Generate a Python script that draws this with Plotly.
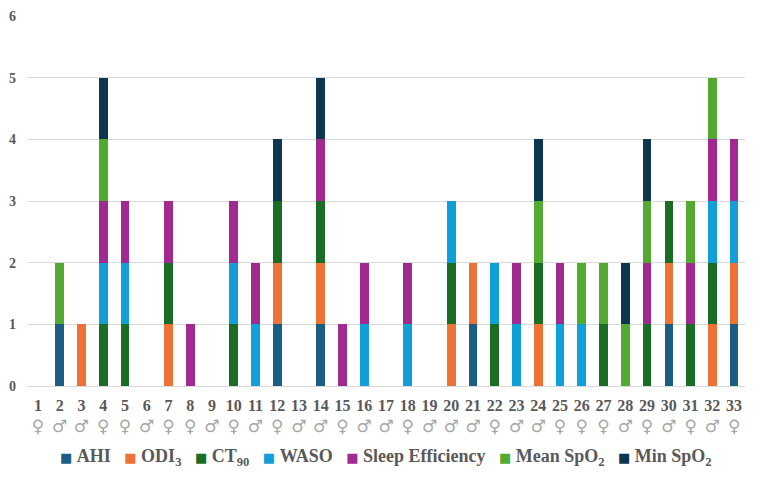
import plotly.graph_objects as go

subjects = [str(i) for i in range(1, 34)]
genders = ["♀","♂","♂","♀","♀","♂","♀","♀","♂","♀","♂","♀","♂","♂","♀","♂","♂",
           "♀","♂","♂","♂","♀","♂","♂","♀","♀","♀","♂","♀","♂","♀","♂","♀"]

series_names = ["AHI", "ODI<sub>3</sub>", "CT<sub>90</sub>", "WASO", "Sleep Efficiency",
                "Mean SpO<sub>2</sub>", "Min SpO<sub>2</sub>"]
colors = ["#1A5E83", "#EC7335", "#1B6C25", "#119FD7", "#A12A91", "#53AA33", "#0D374E"]

ahi  = [0,1,0,0,0,0,0,0,0,0,0,1,0,1,0,0,0,0,0,0,1,0,0,0,0,0,0,0,0,1,0,0,1]
odi  = [0,0,1,0,0,0,1,0,0,0,0,1,0,1,0,0,0,0,0,1,1,0,0,1,0,0,0,0,0,1,0,1,1]
ct90 = [0,0,0,1,1,0,1,0,0,1,0,1,0,1,0,0,0,0,0,1,0,1,0,1,0,0,1,0,1,1,1,1,0]
waso = [0,0,0,1,1,0,0,0,0,1,1,0,0,0,0,1,0,1,0,1,0,1,1,0,1,1,0,0,0,0,0,1,1]
se   = [0,0,0,1,1,0,1,1,0,1,1,0,0,1,1,1,0,1,0,0,0,0,1,0,1,0,0,0,1,0,1,1,1]
mean = [0,1,0,1,0,0,0,0,0,0,0,0,0,0,0,0,0,0,0,0,0,0,0,1,0,1,1,1,1,0,1,1,0]
mins = [0,0,0,1,0,0,0,0,0,0,0,1,0,1,0,0,0,0,0,0,0,0,0,1,0,0,0,1,1,0,0,0,0]
series_values = [ahi, odi, ct90, waso, se, mean, mins]

ticktext = [f"<b>{s}</b><br><span style='font-size:17px;color:#A6A6A6;font-weight:normal;font-family:DejaVu Sans'>{g}</span>"
            for s, g in zip(subjects, genders)]

fig = go.Figure()
for name, vals, col in zip(series_names, series_values, colors):
    fig.add_trace(go.Bar(
        x=subjects, y=vals, name=name, marker_color=col,
        marker_line_width=0, hoverinfo="skip", showlegend=False))

# legend drawn as a single line of text, Excel style
sep = "&nbsp;" * 3
legend_text = sep.join(
    f"<span style='color:{c};font-family:DejaVu Sans;font-size:13px'>■</span> <b>{n}</b>"
    for n, c in zip(series_names, colors))
fig.add_annotation(text=legend_text, xref="paper", yref="paper", x=0.5, y=-0.192,
                   xanchor="center", yanchor="middle", showarrow=False,
                   font=dict(family="Liberation Serif", size=18, color="#595959"))

fig.update_layout(
    barmode="stack", bargap=0.6,
    width=762, height=479,
    margin=dict(l=27, r=17, t=16, b=93, autoexpand=False),
    plot_bgcolor="white", paper_bgcolor="white",
    font=dict(family="Liberation Serif", color="#595959", size=15),
    showlegend=False,
    xaxis=dict(tickmode="array", tickvals=subjects, ticktext=ticktext,
               showgrid=False, showline=False, ticks="", tickfont=dict(size=16),
               ticklabelstandoff=8, automargin=False),
    yaxis=dict(range=[0, 6], dtick=1, showgrid=True, gridcolor="#D9D9D9",
               gridwidth=1, zeroline=True, zerolinecolor="#D9D9D9", zerolinewidth=1,
               ticks="", tickfont=dict(size=14), ticklabelstandoff=10,
               tickprefix="<b>", ticksuffix="</b>", automargin=False),
)

fig.write_html("out.html")
